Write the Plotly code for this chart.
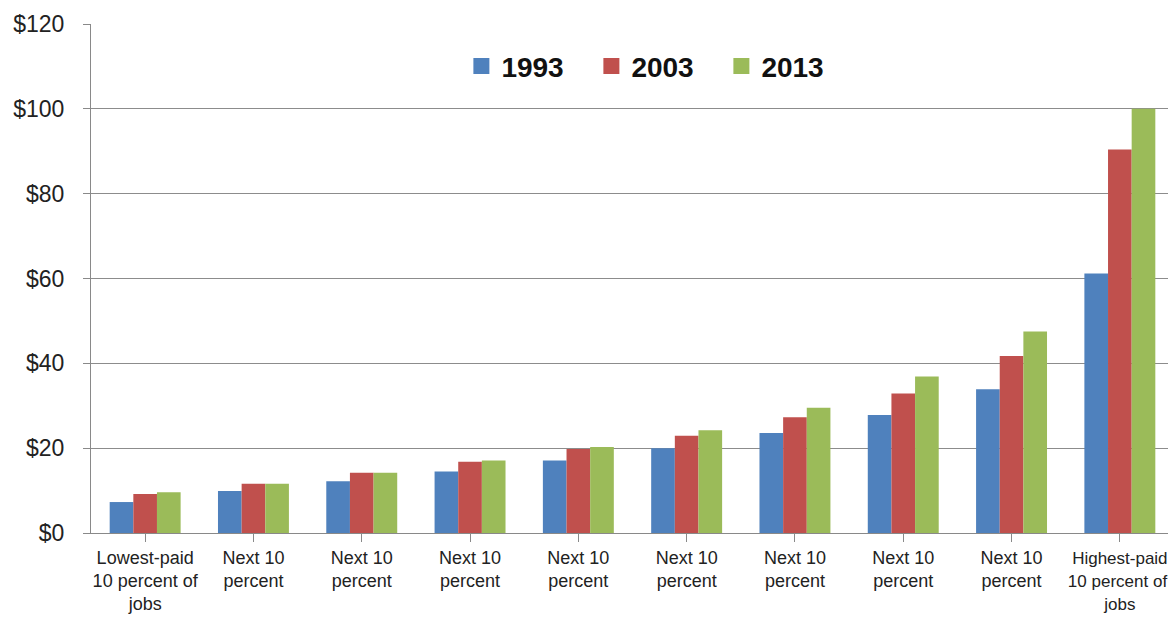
import plotly.graph_objects as go

NB = "\u00a0"


def small(s):
    return "<span style='font-size:17px'>" + s + "</span>"


categories = [
    "Lowest-paid<br>10 percent of<br>jobs",
    "Next 10<br>percent", "Next 10<br>percent", "Next 10<br>percent", "Next 10<br>percent",
    "Next 10<br>percent", "Next 10<br>percent", "Next 10<br>percent", "Next 10<br>percent",
    small("Highest-paid") + "<br>" + small("10 percent of" + NB) + "<br>" + small("jobs"),
]
cat_ids = list(range(len(categories)))
series_names = ["1993", "2003", "2013"]
v1993 = [7.3, 9.9, 12.2, 14.5, 17.1, 20.0, 23.6, 27.8, 33.9, 61.2]
v2003 = [9.2, 11.6, 14.2, 16.8, 19.8, 22.9, 27.3, 32.9, 41.7, 90.4]
v2013 = [9.6, 11.6, 14.2, 17.1, 20.3, 24.2, 29.5, 36.9, 47.5, 100.0]
colors = ["#4F81BD", "#C0504D", "#9BBB59"]
y_ticks = [0, 20, 40, 60, 80, 100, 120]
y_ticklabels = ["$" + str(v) for v in y_ticks]

FONT = "Liberation Sans, Arial, sans-serif"

fig = go.Figure()
for name, vals, col in zip(series_names, [v1993, v2003, v2013], colors):
    fig.add_trace(go.Bar(x=cat_ids, y=vals, name=name, marker_color=col,
                         marker_line_width=0, showlegend=False, legendgroup=name))
    fig.add_trace(go.Scatter(x=[None], y=[None], mode="markers", name=name,
                             marker=dict(symbol="square", size=16, color=col),
                             legendgroup=name, showlegend=True))

# the page body has an 8px margin, so the figure is sized/offset to compensate
fig.update_layout(
    width=1168, height=611,
    margin=dict(l=83, r=2, t=16, b=86),
    paper_bgcolor="white", plot_bgcolor="white",
    barmode="group", bargap=0.345, bargroupgap=0,
    font=dict(family=FONT, color="#222222"),
    legend=dict(orientation="h", x=0.342, xanchor="left", y=0.917, yanchor="middle",
                font=dict(family=FONT, size=28, color="#111111", weight="bold"),
                entrywidth=85, bgcolor="rgba(0,0,0,0)", itemclick=False),
    xaxis=dict(
        tickmode="array", tickvals=cat_ids, ticktext=categories,
        range=[-0.5, len(categories) - 0.5],
        tickson="boundaries", ticks="outside", ticklen=8, tickcolor="#898989",
        showline=True, linecolor="#898989", linewidth=1,
        tickfont=dict(family=FONT, size=18, color="#222222"),
        ticklabeloverflow="allow",
        showgrid=False, zeroline=False, automargin=False,
    ),
    yaxis=dict(
        range=[0, 120], tickmode="array", tickvals=y_ticks, ticktext=y_ticklabels,
        ticks="outside", ticklen=7, tickcolor="#898989",
        showline=True, linecolor="#898989", linewidth=1,
        showgrid=True, gridcolor="#8c8c8c", gridwidth=1, zeroline=False,
        tickfont=dict(family=FONT, size=23, color="#222222"),
        ticklabelstandoff=14, automargin=False,
    ),
)

fig.write_html("out.html")
